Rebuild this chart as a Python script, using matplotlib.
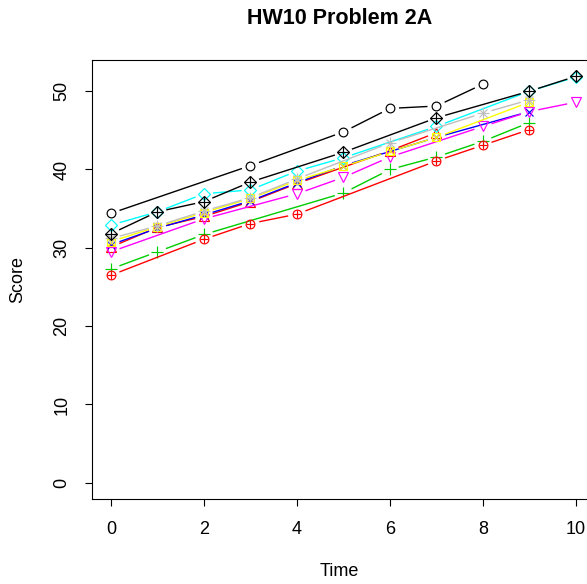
import numpy as np
import matplotlib
matplotlib.use("Agg")
import matplotlib.pyplot as plt

plt.rcParams['font.family'] = ['Liberation Sans', 'DejaVu Sans']

# one subject per series, each measured at its own times
time_1 = [0, 3, 5, 6, 7, 8]
score_1 = [34.4, 40.5, 44.8, 47.8, 48.1, 50.9]
time_2 = [0, 1, 2, 3, 4, 6, 7]
score_2 = [30.1, 32.6, 34.0, 35.9, 38.2, 42.4, 44.7]
time_3 = [0, 1, 2, 5, 6, 7, 8, 9]
score_3 = [27.3, 29.5, 31.7, 37.0, 40.0, 41.6, 43.6, 46.0]
time_4 = [0, 1, 2, 3, 4, 5, 7, 9]
score_4 = [30.4, 32.5, 34.2, 36.0, 38.3, 40.5, 44.1, 47.4]
time_5 = [0, 1, 2, 3, 4, 5, 7, 9, 10]
score_5 = [32.9, 34.6, 36.9, 37.4, 39.8, 41.5, 45.5, 50.0, 51.8]
time_6 = [0, 2, 4, 5, 6, 8, 9, 10]
score_6 = [29.5, 33.7, 36.9, 39.0, 41.6, 45.5, 47.4, 48.6]
time_7 = [0, 1, 2, 3, 4, 5, 6, 7, 9]
score_7 = [30.8, 32.7, 34.5, 36.3, 38.6, 40.4, 42.3, 44.1, 48.6]
time_8 = [0, 1, 2, 3, 4, 6, 8, 9]
score_8 = [31.2, 32.8, 34.7, 36.4, 38.8, 43.4, 47.2, 48.9]
time_9 = [0, 1, 2, 3, 5, 7, 9, 10]
score_9 = [31.8, 34.6, 35.9, 38.4, 42.2, 46.6, 50.0, 51.9]
time_10 = [0, 2, 3, 4, 7, 8, 9]
score_10 = [26.5, 31.1, 33.1, 34.3, 41.1, 43.1, 45.1]

x_ticks = [0, 2, 4, 6, 8, 10]
y_ticks = [0, 10, 20, 30, 40, 50]

# R palette() colours, cycled like col = 1:10
palette = ["#000000", "#FF0000", "#00CD00", "#0000FF", "#00FFFF",
           "#FF00FF", "#FFFF00", "#BEBEBE"]

series = [(time_1, score_1), (time_2, score_2), (time_3, score_3),
          (time_4, score_4), (time_5, score_5), (time_6, score_6),
          (time_7, score_7), (time_8, score_8), (time_9, score_9),
          (time_10, score_10)]

fig = plt.figure(figsize=(5.87, 5.84), dpi=100)
ax = fig.add_axes([0.1574, 0.1455, 0.8555, 0.7517])
ax.set_xlim(-0.4, 10.4)
ax.set_ylim(-2.076, 53.976)

LW = 1.0
MEW = 0.85


def gapped_line(t, y, color, gap=9.0):
    # type = "b": segments stop short of each point
    pts = ax.transData.transform(np.column_stack([t, y]))
    inv = ax.transData.inverted()
    for p0, p1 in zip(pts[:-1], pts[1:]):
        d = p1 - p0
        L = np.hypot(d[0], d[1])
        if L <= 2 * gap:
            continue
        u = d / L
        a = inv.transform(np.array([p0 + u * gap, p1 - u * gap]))
        ax.plot(a[:, 0], a[:, 1], color=color, lw=LW, solid_capstyle='butt')


def pch(t, y, code, color):
    kw = dict(ls='none', color=color, mfc='none', mec=color, mew=MEW)
    if code == 1:
        ax.plot(t, y, marker='o', ms=6.3, **kw)
    elif code == 2:
        ax.plot(t, y, marker='^', ms=7.2, **kw)
    elif code == 3:
        ax.plot(t, y, marker='+', ms=8.5, **kw)
    elif code == 4:
        ax.plot(t, y, marker='x', ms=6, **kw)
    elif code == 5:
        ax.plot(t, y, marker='D', ms=6.2, **kw)
    elif code == 6:
        ax.plot(t, y, marker='v', ms=7.2, **kw)
    elif code == 7:
        ax.plot(t, y, marker='s', ms=6.2, **kw)
        ax.plot(t, y, marker='x', ms=6, **kw)
    elif code == 8:
        ax.plot(t, y, marker='+', ms=8, **kw)
        ax.plot(t, y, marker='x', ms=6, **kw)
    elif code == 9:
        ax.plot(t, y, marker='D', ms=6.2, **kw)
        ax.plot(t, y, marker='+', ms=8.5, **kw)
    elif code == 10:
        ax.plot(t, y, marker='o', ms=6.3, **kw)
        ax.plot(t, y, marker='+', ms=6.3, **kw)


for i, (t, y) in enumerate(series):
    col = palette[i % len(palette)]
    gapped_line(t, y, col)
    pch(t, y, i + 1, col)

ax.set_xticks(x_ticks)
ax.set_yticks(y_ticks)
ax.tick_params(axis='both', direction='out', length=5, width=0.8,
               labelsize=13, color='black')
ax.tick_params(axis='x', pad=11)
ax.tick_params(axis='y', pad=11)
for lab in ax.get_yticklabels():
    lab.set_rotation(90)
    lab.set_va('center')
for s in ax.spines.values():
    s.set_linewidth(0.8)

fig.text(0.5 * (0.1574 + 1.0), 1 - 18 / 584, "HW10 Problem 2A",
         ha='center', va='center', fontsize=15.5, fontweight='bold')
fig.text(0.5 * (0.1574 + 1.0), 1 - 572 / 584, "Time",
         ha='center', va='center', fontsize=13)
fig.text(18 / 587, 1 - 280 / 584, "Score", rotation=90,
         ha='center', va='center', fontsize=13)

fig.savefig("out.png", dpi=100)
